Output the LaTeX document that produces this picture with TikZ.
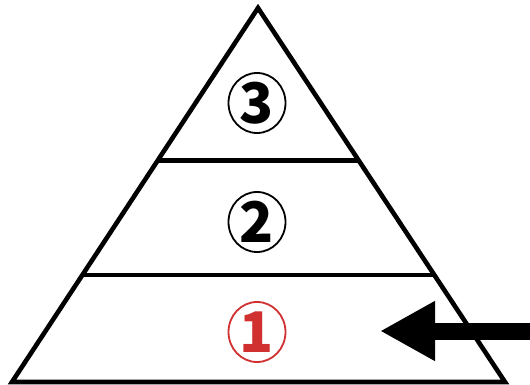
\documentclass[tikz,border=0pt]{standalone}
\usepackage{fontspec}
\usepackage{tikz}
\usetikzlibrary{arrows.meta, positioning, calc, shapes.geometric}
\newfontfamily\digitfont{Noto Sans CJK JP}[UprightFont={* Black}, BoldFont={* Black}]
\definecolor{levelred}{RGB}{208,48,48}

\begin{document}
\begin{tikzpicture}[x=1pt, y=-1pt,
  tier/.style={line width=4.6pt, line join=miter},
  badge/.style={ellipse, draw, line width=1.8pt, minimum width=57pt, minimum height=60pt, inner sep=0pt,
    font=\digitfont\fontsize{56}{56}\selectfont},
  pointer/.style={line width=17pt, -{Triangle[length=55pt, width=56pt]}}]
\useasboundingbox (0,0) rectangle (530,385);
% Pyramid outline
\coordinate (apex) at (258,8);
\coordinate (bl) at (12,382);
\coordinate (br) at (505,382);
\draw[tier] (apex) -- (bl) -- (br) -- cycle;
% Level dividers
\draw[tier] ($(apex)!0.408!(bl)$) -- ($(apex)!0.408!(br)$);
\draw[tier] ($(apex)!0.714!(bl)$) -- ($(apex)!0.714!(br)$);
% Level labels
\node[badge] (n3) at (257,103) {3};
\node[badge] (n2) at (257,222) {2};
\node[badge, draw=levelred, text=levelred] (n1) at (257,332) {1};
% Arrow pointing at level 1
\coordinate (tail) at (531,331);
\coordinate (tip) at (380,331);
\draw[pointer] (tail) -- (tip);
\end{tikzpicture}
\end{document}
